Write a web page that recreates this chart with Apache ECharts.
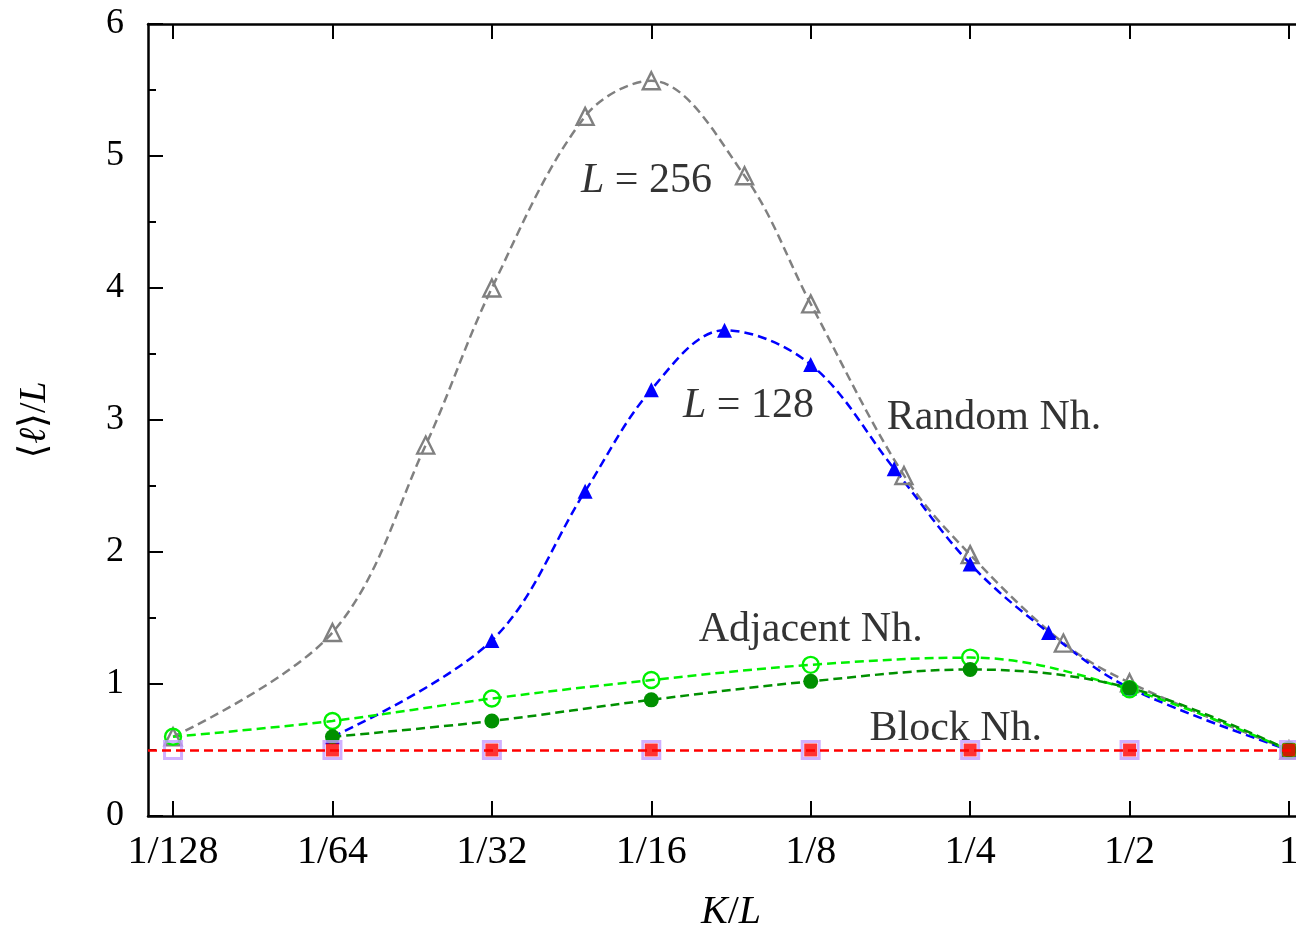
<!DOCTYPE html>
<html><head><meta charset="utf-8">
<script src="https://cdn.jsdelivr.net/npm/echarts@6/dist/echarts.min.js"></script>
<style>html,body{margin:0;padding:0;background:#fff}#c{width:1296px;height:931px}</style>
</head><body><div id="c"></div>
<script>
// x positions are powers of two: K/L = 2^p
const tickPowers = [-7, -6, -5, -4, -3, -2, -1, 0];

// Random neighbourhood, L = 256 (open grey triangles)
const randomK256 = [2, 4, 6, 8, 12, 16, 24, 32, 48, 64, 96, 128, 256];
const random256  = [0.60, 1.39, 2.81, 4.00, 5.30, 5.57, 4.85, 3.88, 2.58, 1.98, 1.31, 1.01, 0.50];
// Random neighbourhood, L = 128 (filled blue triangles)
const randomK128 = [2, 4, 6, 8, 11, 16, 23, 32, 45, 64, 128];
const random128  = [0.60, 1.33, 2.46, 3.23, 3.68, 3.42, 2.63, 1.91, 1.39, 0.97, 0.50];
// Adjacent neighbourhood, L = 256 (open light-green circles)
const adjK256 = [2, 4, 8, 16, 32, 64, 128, 256];
const adj256  = [0.60, 0.72, 0.89, 1.03, 1.145, 1.20, 0.96, 0.50];
// Adjacent neighbourhood, L = 128 (filled dark-green circles)
const adjK128 = [2, 4, 8, 16, 32, 64, 128];
const adj128  = [0.60, 0.72, 0.88, 1.02, 1.11, 0.97, 0.50];
// Block neighbourhood, L = 256 (open purple squares) and L = 128 (filled red squares)
const blockK256 = [2, 4, 8, 16, 32, 64, 128, 256];
const block256  = [0.5, 0.5, 0.5, 0.5, 0.5, 0.5, 0.5, 0.5];
const blockK128 = [2, 4, 8, 16, 32, 64, 128];
const block128  = [0.5, 0.5, 0.5, 0.5, 0.5, 0.5, 0.5];
const blockLevel = 0.5;

// annotations: text, log2(K/L), value
const notes = [
  { text: '{i|L} = 256', x: -4.03, y: 4.81 },
  { text: '{i|L} = 128', x: -3.39, y: 3.11 },
  { text: 'Random Nh.', x: -1.85, y: 3.015 },
  { text: 'Adjacent Nh.', x: -3.0, y: 1.41 },
  { text: 'Block Nh.', x: -2.09, y: 0.66 }
];

const FONT = "'Liberation Serif', 'DejaVu Serif', serif";
const TXT = '#000';
const pts = (ks, L, vs) => ks.map((k, i) => [Math.log2(k / L), vs[i]]);
const fracLabel = p => p === 0 ? '1' : '1/' + Math.pow(2, -p);

const dash = [9, 5];
function curve(name, data, color, symbol, filled, size) {
  return {
    name, type: 'line', data, smooth: 0.35, symbol, symbolSize: size,
    showSymbol: true, z: 3,
    lineStyle: { color, width: 2.5, type: dash },
    itemStyle: filled ? { color, borderColor: color, borderWidth: 0 }
                      : { color: 'rgba(0,0,0,0)', borderColor: color, borderWidth: 2.4 },
    emphasis: { disabled: true }
  };
}

const xCommon = {
  type: 'value', min: -7.157, max: 0.157,
  splitLine: { show: false },
  axisLine: { show: true, onZero: false, lineStyle: { color: '#000', width: 2.5 } },
  axisTick: { show: true, inside: true, length: 15, customValues: tickPowers, lineStyle: { color: '#000', width: 2 } },
  minorTick: { show: false }
};
const yCommon = {
  type: 'value', min: 0, max: 6, interval: 1,
  splitLine: { show: false },
  axisLine: { show: true, onZero: false, lineStyle: { color: '#000', width: 2.5 } },
  axisTick: { show: true, inside: true, length: 15, lineStyle: { color: '#000', width: 2 } },
  minorTick: { show: true, splitNumber: 2, length: 8, lineStyle: { color: '#000', width: 2 } }
};

const chart = echarts.init(document.getElementById('c'), null, { renderer: 'canvas' });
chart.setOption({
  animation: false,
  backgroundColor: '#fff',
  grid: { left: 148, top: 24, width: 1166, height: 792, containLabel: false, outerBoundsMode: 'none' },
  xAxis: [
    Object.assign({}, xCommon, {
      position: 'bottom',
      name: '{i|K}/{i|L}', nameLocation: 'middle', nameGap: 76,
      nameTextStyle: { fontFamily: FONT, fontSize: 40, color: TXT,
        rich: { i: { fontFamily: FONT, fontSize: 40, fontStyle: 'italic', color: TXT } } },
      axisLabel: { show: true, customValues: tickPowers, formatter: v => fracLabel(Math.round(v)),
        fontFamily: FONT, fontSize: 40, color: TXT, margin: 16 }
    }),
    Object.assign({}, xCommon, { position: 'top', axisLabel: { show: false } })
  ],
  yAxis: [
    Object.assign({}, yCommon, {
      position: 'left',
      name: '⟨{i|ℓ}⟩/{i|L}', nameLocation: 'middle', nameGap: 94, nameRotate: 90,
      nameTextStyle: { fontFamily: FONT, fontSize: 38, color: TXT,
        rich: { i: { fontFamily: FONT, fontSize: 38, fontStyle: 'italic', color: TXT } } },
      axisLabel: { show: true, fontFamily: FONT, fontSize: 36, color: TXT, margin: 24 }
    }),
    Object.assign({}, yCommon, { position: 'right', axisLabel: { show: false } })
  ],
  series: [
    curve('Random L=256', pts(randomK256, 256, random256), '#808080', 'triangle', false, 17),
    curve('Random L=128', pts(randomK128, 128, random128), '#0000ff', 'triangle', true, 15),
    curve('Adjacent L=256', pts(adjK256, 256, adj256), '#00f000', 'circle', false, 16),
    curve('Adjacent L=128', pts(adjK128, 128, adj128), '#009000', 'circle', true, 15),
    {
      name: 'Block L=256', type: 'scatter', data: pts(blockK256, 256, block256),
      symbol: 'rect', symbolSize: 17, z: 4,
      itemStyle: { color: 'rgba(0,0,0,0)', borderColor: '#c49cff', borderWidth: 3 },
      emphasis: { disabled: true }
    },
    {
      name: 'Block L=128', type: 'scatter', data: pts(blockK128, 128, block128),
      symbol: 'rect', symbolSize: 13, z: 5,
      itemStyle: { color: '#ff0000' },
      emphasis: { disabled: true },
      markLine: {
        silent: true, symbol: 'none', label: { show: false },
        lineStyle: { color: '#ff0000', width: 2.5, type: dash },
        data: [{ yAxis: blockLevel }]
      }
    },
    {
      name: 'notes', type: 'scatter', silent: true, symbolSize: 1, z: 6,
      itemStyle: { color: 'rgba(0,0,0,0)' },
      data: notes.map(n => ({ value: [n.x, n.y], label: { formatter: n.text } })),
      label: {
        show: true, position: 'inside', fontFamily: FONT, fontSize: 42, color: TXT,
        rich: { i: { fontFamily: FONT, fontSize: 42, fontStyle: 'italic', color: TXT } }
      }
    }
  ]
});
</script>
</body></html>
